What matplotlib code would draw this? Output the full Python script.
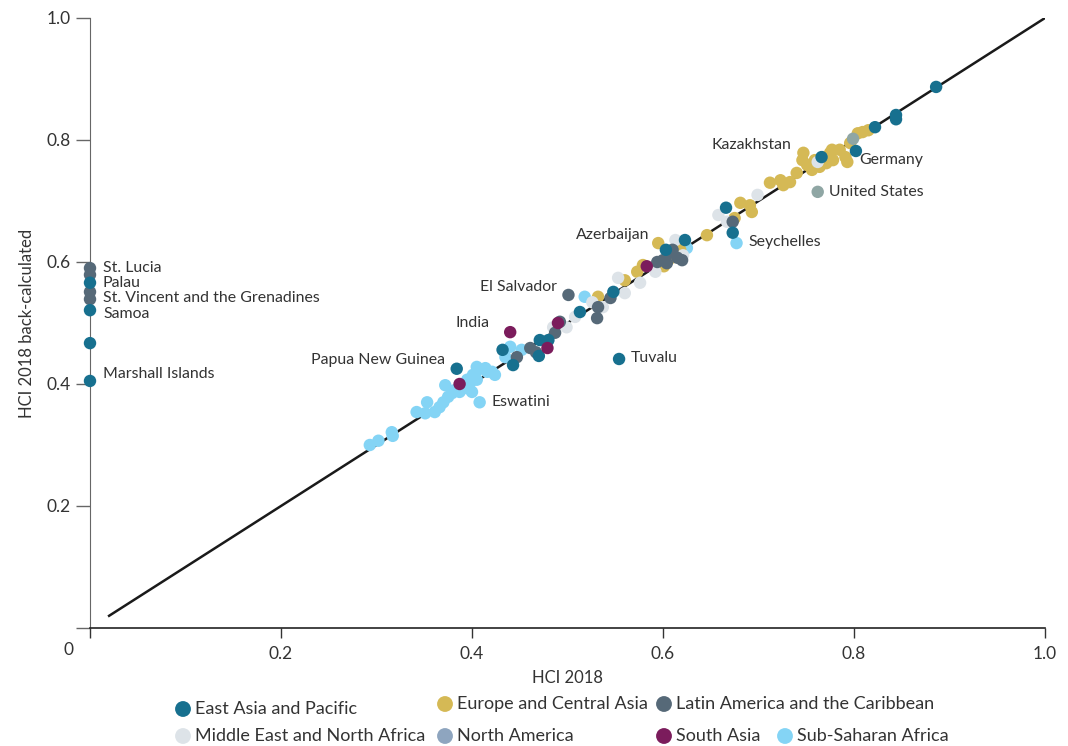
import numpy as np
import matplotlib
matplotlib.use("Agg")
import matplotlib.pyplot as plt

plt.rcParams['font.family'] = ['Lato', 'DejaVu Sans']

# HCI 2018 (x) vs HCI 2018 back-calculated (y), by region
eap_x = [0, 0, 0, 0, 0.384, 0.554, 0.886, 0.844, 0.844, 0.822, 0.802, 0.766, 0.666,
         0.673, 0.603, 0.623, 0.548, 0.513, 0.471, 0.480, 0.470, 0.443, 0.432]
eap_y = [0.566, 0.521, 0.467, 0.405, 0.425, 0.441, 0.887, 0.841, 0.834, 0.821, 0.782,
         0.772, 0.689, 0.648, 0.620, 0.636, 0.551, 0.518, 0.472, 0.472, 0.446, 0.431, 0.456]

eca_x = [0.681, 0.691, 0.693, 0.712, 0.723, 0.726, 0.733, 0.740, 0.747, 0.746, 0.751,
         0.756, 0.759, 0.768, 0.775, 0.778, 0.777, 0.785, 0.793, 0.796, 0.804, 0.809,
         0.815, 0.791, 0.771, 0.764, 0.675, 0.646, 0.595, 0.579, 0.573, 0.560, 0.532,
         0.618, 0.601, 0.609]
eca_y = [0.697, 0.693, 0.682, 0.730, 0.734, 0.726, 0.731, 0.746, 0.779, 0.767, 0.759,
         0.751, 0.767, 0.772, 0.779, 0.767, 0.784, 0.784, 0.764, 0.795, 0.811, 0.813,
         0.816, 0.772, 0.762, 0.756, 0.672, 0.644, 0.631, 0.595, 0.584, 0.570, 0.543,
         0.620, 0.593, 0.607]

lac_x = [0, 0, 0, 0, 0.447, 0.461, 0.487, 0.492, 0.501, 0.532, 0.531, 0.545, 0.594,
         0.600, 0.604, 0.607, 0.610, 0.615, 0.620, 0.673, 0.467]
lac_y = [0.590, 0.579, 0.551, 0.539, 0.444, 0.459, 0.484, 0.502, 0.546, 0.526, 0.508,
         0.541, 0.600, 0.603, 0.598, 0.615, 0.620, 0.607, 0.603, 0.666, 0.452]

mena_x = [0.762, 0.699, 0.658, 0.667, 0.613, 0.621, 0.592, 0.576, 0.553, 0.560, 0.537,
          0.526, 0.508, 0.499, 0.485]
mena_y = [0.764, 0.710, 0.677, 0.666, 0.636, 0.611, 0.584, 0.566, 0.574, 0.549, 0.526,
          0.534, 0.510, 0.493, 0.493]

na_x = [0.799, 0.762]
na_y = [0.802, 0.715]

sa_x = [0.583, 0.440, 0.479, 0.490, 0.387]
sa_y = [0.593, 0.485, 0.459, 0.500, 0.400]

ssa_x = [0.677, 0.408, 0.293, 0.302, 0.316, 0.317, 0.342, 0.351, 0.353, 0.361, 0.366,
         0.370, 0.372, 0.375, 0.379, 0.382, 0.387, 0.395, 0.398, 0.400, 0.405, 0.406,
         0.414, 0.421, 0.424, 0.395, 0.401, 0.405, 0.440, 0.452, 0.435, 0.416, 0.518, 0.625]
ssa_y = [0.631, 0.370, 0.300, 0.307, 0.321, 0.315, 0.354, 0.352, 0.370, 0.354, 0.362,
         0.370, 0.398, 0.379, 0.385, 0.390, 0.387, 0.393, 0.402, 0.387, 0.407, 0.423,
         0.426, 0.420, 0.415, 0.407, 0.415, 0.428, 0.461, 0.456, 0.444, 0.420, 0.543, 0.623]

labels = ["St. Lucia", "Palau", "St. Vincent and the Grenadines", "Samoa",
          "Marshall Islands", "Papua New Guinea", "India", "El Salvador", "Eswatini",
          "Tuvalu", "Azerbaijan", "Seychelles", "Kazakhstan", "Germany", "United States"]
lab_x = [0.0136, 0.0136, 0.0136, 0.0136, 0.0136, 0.372, 0.418, 0.489, 0.420,
         0.566, 0.586, 0.689, 0.734, 0.806, 0.774]
lab_y = [0.590, 0.566, 0.541, 0.515, 0.416, 0.439, 0.500, 0.559, 0.370,
         0.443, 0.644, 0.633, 0.792, 0.767, 0.715]
lab_ha = ['left'] * 5 + ['right', 'right', 'right', 'left', 'left', 'right', 'left',
                         'right', 'left', 'left']

c_eap = '#17708f'
c_eca = '#d5b955'
c_lac = '#566978'
c_mena = '#dde3e8'
c_na = '#8fa6a4'
c_sa = '#7b1c5c'
c_ssa = '#84d4f5'

fig = plt.figure(figsize=(10.68, 7.46), dpi=100)
ax = fig.add_axes([90/1068, 1-628/746, 955/1068, 610/746])

ax.plot([0.02, 1.0], [0.02, 1.0], color='#1a1a1a', lw=1.8, zorder=1)

s = 80
for xs, ys, c in [(ssa_x, ssa_y, c_ssa), (eca_x, eca_y, c_eca), (mena_x, mena_y, c_mena),
                  (lac_x, lac_y, c_lac), (eap_x, eap_y, c_eap), (sa_x, sa_y, c_sa),
                  (na_x, na_y, c_na)]:
    ax.scatter(xs, ys, s=s, color=c, edgecolors='none', zorder=3, clip_on=False)

for t, x, y, ha in zip(labels, lab_x, lab_y, lab_ha):
    ax.text(x, y, t, ha=ha, va='center', fontsize=11.4, color='#333333', zorder=4)

ax.set_xlim(0, 1)
ax.set_ylim(0, 1)
ax.set_xticks([0, 0.2, 0.4, 0.6, 0.8, 1.0])
ax.set_xticklabels(['', '0.2', '0.4', '0.6', '0.8', '1.0'])
ax.set_yticks([0, 0.2, 0.4, 0.6, 0.8, 1.0])
ax.set_yticklabels(['', '0.2', '0.4', '0.6', '0.8', '1.0'])
ax.tick_params(axis='x', length=7, width=1, color='#333333', labelsize=12.5,
               labelcolor='#333333', pad=6)
ax.tick_params(axis='y', length=10, width=1, color='#666666', labelsize=12.5,
               labelcolor='#333333', pad=4)
for sp in ['top', 'right']:
    ax.spines[sp].set_visible(False)
ax.spines['left'].set_color('#666666')
ax.spines['bottom'].set_color('#222222')
ax.spines['bottom'].set_linewidth(1.2)
ax.text(-0.023, -0.036, '0', transform=ax.transAxes, ha='center', va='center',
        fontsize=12.5, color='#333333')
ax.set_xlabel('HCI 2018', fontsize=12, color='#333333', labelpad=6)
ax.set_ylabel('HCI 2018 back-calculated', fontsize=12, color='#333333', labelpad=8)

# legend drawn by hand, layout as in the source
leg = fig.add_axes([0, 0, 1, 1])
leg.set_xlim(0, 1068)
leg.set_ylim(746, 0)
leg.axis('off')
leg_names = ["East Asia and Pacific", "Europe and Central Asia",
             "Latin America and the Caribbean", "Middle East and North Africa",
             "North America", "South Asia", "Sub-Saharan Africa"]
leg_cols = [c_eap, c_eca, c_lac, c_mena, '#8ea5bf', c_sa, c_ssa]
leg_px = [183, 445, 664, 183, 445, 664, 785]
leg_py = [709, 704, 704, 736, 736, 736, 736]
leg.scatter(leg_px, leg_py, s=130, c=leg_cols, edgecolors='none')
for n, x, y in zip(leg_names, leg_px, leg_py):
    leg.text(x + 12, y, n, ha='left', va='center', fontsize=13, color='#333333')

fig.savefig('out.png', dpi=100)
